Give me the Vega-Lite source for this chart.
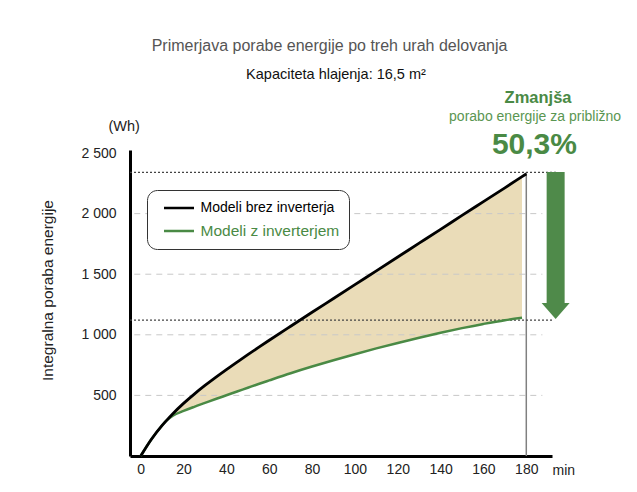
{
  "$schema": "https://vega.github.io/schema/vega-lite/v6.json",
  "width": 422,
  "height": 306,
  "autosize": {"type": "none"},
  "padding": {"left": 130, "top": 150, "right": 85, "bottom": 36},
  "background": "#ffffff",
  "config": {"view": {"stroke": null}, "font": "Liberation Sans"},
  "datasets": {
    "curves": [
      {"t": 0, "Modeli brez inverterja": 0, "Modeli z inverterjem": 0},
      {"t": 5, "Modeli brez inverterja": 138, "Modeli z inverterjem": 138},
      {"t": 10, "Modeli brez inverterja": 252, "Modeli z inverterjem": 252},
      {"t": 12, "Modeli brez inverterja": 292, "Modeli z inverterjem": 292},
      {"t": 15, "Modeli brez inverterja": 349, "Modeli z inverterjem": 333},
      {"t": 20, "Modeli brez inverterja": 434, "Modeli z inverterjem": 372},
      {"t": 25, "Modeli brez inverterja": 511, "Modeli z inverterjem": 406},
      {"t": 30, "Modeli brez inverterja": 582, "Modeli z inverterjem": 438},
      {"t": 35, "Modeli brez inverterja": 649, "Modeli z inverterjem": 470},
      {"t": 40, "Modeli brez inverterja": 713, "Modeli z inverterjem": 501},
      {"t": 45, "Modeli brez inverterja": 775, "Modeli z inverterjem": 532},
      {"t": 50, "Modeli brez inverterja": 836, "Modeli z inverterjem": 563},
      {"t": 55, "Modeli brez inverterja": 896, "Modeli z inverterjem": 594},
      {"t": 60, "Modeli brez inverterja": 955, "Modeli z inverterjem": 624},
      {"t": 70, "Modeli brez inverterja": 1071, "Modeli z inverterjem": 683},
      {"t": 80, "Modeli brez inverterja": 1186, "Modeli z inverterjem": 738},
      {"t": 90, "Modeli brez inverterja": 1300, "Modeli z inverterjem": 790},
      {"t": 100, "Modeli brez inverterja": 1414, "Modeli z inverterjem": 840},
      {"t": 110, "Modeli brez inverterja": 1528, "Modeli z inverterjem": 888},
      {"t": 120, "Modeli brez inverterja": 1642, "Modeli z inverterjem": 933},
      {"t": 130, "Modeli brez inverterja": 1756, "Modeli z inverterjem": 976},
      {"t": 140, "Modeli brez inverterja": 1870, "Modeli z inverterjem": 1017},
      {"t": 150, "Modeli brez inverterja": 1985, "Modeli z inverterjem": 1055},
      {"t": 160, "Modeli brez inverterja": 2099, "Modeli z inverterjem": 1090},
      {"t": 170, "Modeli brez inverterja": 2213, "Modeli z inverterjem": 1121},
      {"t": 178, "Modeli brez inverterja": 2305, "Modeli z inverterjem": 1140},
      {"t": 180, "Modeli brez inverterja": 2328, "Modeli z inverterjem": null}
    ],
    "gridlines": [
      {"v": 500, "t": -3, "t2": 187.5},
      {"v": 1000, "t": -3, "t2": 187.5},
      {"v": 1500, "t": -3, "t2": 187.5},
      {"v": 2000, "t": -3, "t2": 187.5}
    ],
    "refs": [
      {"v": 2340, "t": -5, "t2": 194.2},
      {"v": 1122, "t": -5, "t2": 192.3}
    ],
    "marker": [{"t": 180, "v": 0, "v2": 2340}],
    "shaft": [{"t": 189.5, "t2": 197.9, "v": 1262, "v2": 2343}],
    "head": [{"t": 193.7, "v": 1196}],
    "texts": [
      {"id": "title", "t": 5.1, "v": 3380, "text": "Primerjava porabe energije po treh urah delovanja"},
      {"id": "subtitle", "t": 49.2, "v": 3144, "text": "Kapaciteta hlajenja: 16,5 m²"},
      {"id": "unit", "t": -7.7, "v": 2715, "text": "(Wh)"},
      {"id": "head1", "t": 185.5, "v": 2954, "text": "Zmanjša"},
      {"id": "head2", "t": 184.1, "v": 2797, "text": "porabo energije za približno"},
      {"id": "head3", "t": 183.8, "v": 2566, "text": "50,3%"}
    ]
  },
  "encoding": {
    "x": {
      "field": "t",
      "type": "quantitative",
      "scale": {"domain": [-5, 192], "nice": false, "zero": false},
      "axis": {
        "values": [0, 20, 40, 60, 80, 100, 120, 140, 160, 180],
        "title": "min",
        "titleX": 422,
        "titleY": 18,
        "titleAlign": "left",
        "titleBaseline": "alphabetic",
        "titleFontWeight": "normal",
        "titleFontSize": 14,
        "titleColor": "#222222",
        "domainColor": "#000000",
        "domainWidth": 3,
        "ticks": false,
        "grid": false,
        "labelFontSize": 14,
        "labelColor": "#222222",
        "labelPadding": 6,
        "labelFlush": false
      }
    },
    "y": {
      "field": "v",
      "type": "quantitative",
      "scale": {"domain": [0, 2525], "nice": false},
      "axis": {
        "values": [500, 1000, 1500, 2000, 2500],
        "labelExpr": "replace(format(datum.value, ','), ',', ' ')",
        "title": "Integralna poraba energije",
        "titleX": -83,
        "titleY": 140,
        "titleAngle": -90,
        "titleAlign": "center",
        "titleBaseline": "middle",
        "titleFontWeight": "normal",
        "titleFontSize": 15.5,
        "titleColor": "#222222",
        "domainColor": "#000000",
        "domainWidth": 3,
        "ticks": false,
        "grid": false,
        "labelFontSize": 14,
        "labelColor": "#222222",
        "labelPadding": 14
      }
    }
  },
  "layer": [
    {
      "data": {"name": "curves"},
      "transform": [{"filter": "datum.t >= 12 && isValid(datum['Modeli z inverterjem'])"}],
      "mark": {"type": "area", "color": "#eadcb8", "opacity": 1, "interpolate": "monotone"},
      "encoding": {
        "y": {"field": "Modeli brez inverterja", "type": "quantitative", "scale": {"domain": [0, 2525], "nice": false}},
        "y2": {"field": "Modeli z inverterjem"}
      }
    },
    {
      "data": {"name": "gridlines"},
      "mark": {"type": "rule", "color": "#c8c8c8", "strokeWidth": 1, "strokeDash": [6, 5]},
      "encoding": {"x2": {"field": "t2"}}
    },
    {
      "data": {"name": "marker"},
      "mark": {"type": "rule", "color": "#808080", "strokeWidth": 1.5},
      "encoding": {"y2": {"field": "v2"}}
    },
    {
      "data": {"name": "refs"},
      "mark": {"type": "rule", "color": "#444444", "strokeWidth": 1.2, "strokeDash": [2, 2]},
      "encoding": {"x2": {"field": "t2"}}
    },
    {
      "data": {"name": "curves"},
      "transform": [
        {"fold": ["Modeli brez inverterja", "Modeli z inverterjem"], "as": ["series", "v"]},
        {"filter": "datum.series === 'Modeli z inverterjem'"}
      ],
      "mark": {"type": "line", "strokeWidth": 2.5, "interpolate": "monotone"},
      "encoding": {
        "color": {
          "field": "series",
          "type": "nominal",
          "scale": {"domain": ["Modeli brez inverterja", "Modeli z inverterjem"], "range": ["#000000", "#4a8a45"]},
          "legend": {
            "orient": "none",
            "legendX": 17,
            "legendY": 40,
            "title": null,
            "direction": "vertical",
            "fillColor": "#ffffff",
            "strokeColor": "#333333",
            "cornerRadius": 10,
            "padding": 9,
            "symbolType": "stroke",
            "symbolSize": 900,
            "symbolStrokeWidth": 2.5,
            "symbolOffset": 6.5,
            "labelOffset": 5,
            "clipHeight": 18,
            "rowPadding": 5,
            "labelFont": "Liberation Sans",
            "labelFontSize": 14,
            "labelLimit": 300,
            "encode": {
              "labels": {
                "update": {
                  "fill": {"signal": "datum.value === 'Modeli z inverterjem' ? '#4a8a45' : '#000000'"},
                  "fontSize": {"signal": "datum.value === 'Modeli z inverterjem' ? 15.5 : 14"}
                }
              }
            }
          }
        }
      }
    },
    {
      "data": {"name": "curves"},
      "transform": [
        {"fold": ["Modeli brez inverterja", "Modeli z inverterjem"], "as": ["series", "v"]},
        {"filter": "datum.series === 'Modeli brez inverterja'"}
      ],
      "mark": {"type": "line", "strokeWidth": 2.8, "interpolate": "monotone"},
      "encoding": {
        "color": {"field": "series", "type": "nominal"}
      }
    },
    {
      "data": {"name": "shaft"},
      "mark": {"type": "rect", "color": "#4f8a4a"},
      "encoding": {"x2": {"field": "t2"}, "y2": {"field": "v2"}}
    },
    {
      "data": {"name": "head"},
      "mark": {"type": "point", "shape": "M-1,-0.57L1,-0.57L0,0.57Z", "size": 784, "filled": true, "opacity": 1, "color": "#4f8a4a"},
      "encoding": {}
    },
    {
      "data": {"name": "texts"},
      "transform": [{"filter": "datum.id === 'title'"}],
      "mark": {"type": "text", "align": "left", "baseline": "middle", "fontSize": 16, "color": "#555555"},
      "encoding": {"text": {"field": "text"}}
    },
    {
      "data": {"name": "texts"},
      "transform": [{"filter": "datum.id === 'subtitle'"}],
      "mark": {"type": "text", "align": "left", "baseline": "middle", "fontSize": 14.5, "color": "#111111"},
      "encoding": {"text": {"field": "text"}}
    },
    {
      "data": {"name": "texts"},
      "transform": [{"filter": "datum.id === 'unit'"}],
      "mark": {"type": "text", "align": "center", "baseline": "middle", "fontSize": 14.5, "color": "#222222"},
      "encoding": {"text": {"field": "text"}}
    },
    {
      "data": {"name": "texts"},
      "transform": [{"filter": "datum.id === 'head1'"}],
      "mark": {"type": "text", "align": "center", "baseline": "middle", "fontSize": 16.5, "fontWeight": "bold", "color": "#4a8a45"},
      "encoding": {"text": {"field": "text"}}
    },
    {
      "data": {"name": "texts"},
      "transform": [{"filter": "datum.id === 'head2'"}],
      "mark": {"type": "text", "align": "center", "baseline": "middle", "fontSize": 14, "color": "#5a9652"},
      "encoding": {"text": {"field": "text"}}
    },
    {
      "data": {"name": "texts"},
      "transform": [{"filter": "datum.id === 'head3'"}],
      "mark": {"type": "text", "align": "center", "baseline": "middle", "fontSize": 30, "fontWeight": "bold", "color": "#4a8a45"},
      "encoding": {"text": {"field": "text"}}
    }
  ]
}
